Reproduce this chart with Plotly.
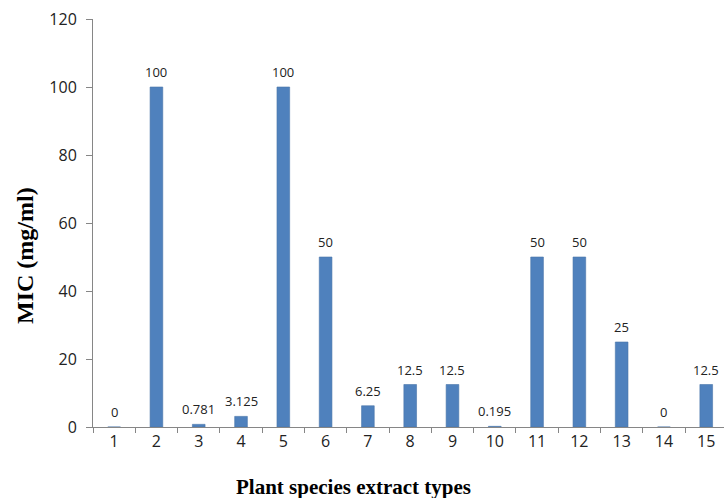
import plotly.graph_objects as go

categories = [str(i) for i in range(1, 16)]
mic_values = [0, 100, 0.781, 3.125, 100, 50, 6.25, 12.5, 12.5, 0.195, 50, 50, 25, 0, 12.5]
value_labels = ["0", "100", "0.781", "3.125", "100", "50", "6.25", "12.5", "12.5", "0.195", "50", "50", "25", "0", "12.5"]
y_ticks = [0, 20, 40, 60, 80, 100, 120]

W, H = 724, 498
ML, MR, MT, MB = 93, 0, 19, 71

def px_x(x):  # page pixel -> paper x
    return (x - ML) / (W - ML - MR)

def px_y(y):  # page pixel -> paper y
    return 1 - (y - MT) / (H - MT - MB)

fig = go.Figure()
fig.add_trace(go.Bar(
    x=categories, y=mic_values, width=0.3,
    marker=dict(color="#4F81BD", line=dict(color="#4A76AA", width=0.6)),
    hoverinfo="x+y",
))

for i, (v, t) in enumerate(zip(mic_values, value_labels)):
    fig.add_annotation(x=i, y=v, text=t, showarrow=False, yanchor="middle",
                       yshift=15, font=dict(family="Open Sans", size=13, color="#222"))

# axis titles
fig.add_annotation(xref="paper", yref="paper", x=px_x(353), y=px_y(487),
                   text="<b>Plant species extract types</b>", showarrow=False,
                   xanchor="center", yanchor="middle",
                   font=dict(family="Liberation Serif", size=21, color="black"))
fig.add_annotation(xref="paper", yref="paper", x=px_x(25), y=px_y(256),
                   text="<b>MIC (mg/ml)</b>", showarrow=False, textangle=-90,
                   xanchor="center", yanchor="middle",
                   font=dict(family="Liberation Serif", size=24, color="black"))

fig.update_layout(
    width=W, height=H,
    margin=dict(l=ML, r=MR, t=MT, b=MB),
    paper_bgcolor="white", plot_bgcolor="white",
    showlegend=False,
    xaxis=dict(type="category", range=[-0.5, 14.42], tickson="boundaries",
               ticks="outside", ticklen=5, tickcolor="#868686",
               showline=True, linecolor="#868686", linewidth=1,
               showgrid=False, zeroline=False,
               tickfont=dict(family="Open Sans", size=16, color="#222")),
    yaxis=dict(range=[0, 120], tickvals=y_ticks, ticks="outside", ticklen=6,
               tickcolor="#868686", showline=True, linecolor="#868686", linewidth=1,
               showgrid=False, zeroline=False, ticklabelstandoff=6,
               tickfont=dict(family="Open Sans", size=16, color="#222")),
)

fig.write_html("out.html", config={"displayModeBar": False},
               post_script="document.body.style.margin='0';document.body.style.overflow='hidden';")
